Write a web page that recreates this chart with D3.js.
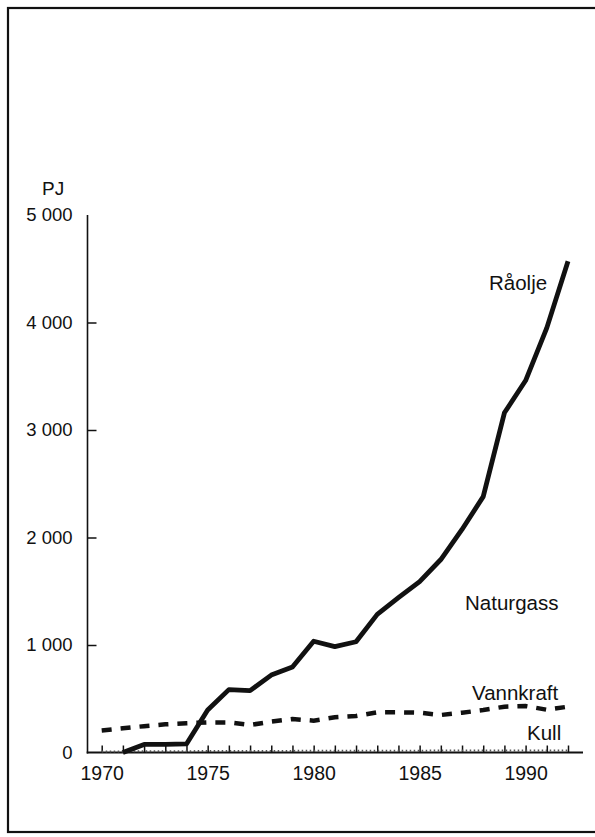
<!DOCTYPE html>
<html>
<head>
<meta charset="utf-8">
<script src="https://cdn.jsdelivr.net/npm/d3@7"></script>
<style>
  html, body { margin: 0; padding: 0; background: #fff; }
  svg { display: block; }
  text { font-family: "Liberation Sans", Arial, Helvetica, sans-serif; fill: #111; }
</style>
</head>
<body>
<svg id="chart" width="595" height="837"></svg>
<script>
// Primary energy production, PJ, 1970–1992
const years = d3.range(1970, 1993);
const raolje = [null, 0, 75, 75, 80, 395, 585, 575, 720, 795, 1035, 985, 1030, 1285, 1440, 1590, 1795, 2075, 2380, 3160, 3460, 3950, 4570];
const vannkraft = [205, 225, 245, 262, 272, 280, 280, 256, 287, 312, 296, 327, 340, 374, 374, 370, 349, 370, 395, 426, 432, 398, 426];
const kull = [10, 10, 12, 12, 12, 14, 14, 14, 15, 15, 16, 16, 16, 17, 17, 17, 18, 18, 18, 18, 18, 18, 18];
const yTicks = [0, 1000, 2000, 3000, 4000, 5000];
const xTicks = [1970, 1975, 1980, 1985, 1990];

const svg = d3.select("#chart");

// outer frame
svg.append("rect")
  .attr("x", 8).attr("y", 8)
  .attr("width", 600).attr("height", 824)
  .attr("fill", "none").attr("stroke", "#111").attr("stroke-width", 2.2);

const x = d3.scaleLinear().domain([1970, 1992]).range([101.7, 568]);
const y = d3.scaleLinear().domain([0, 5000]).range([752.5, 215]);

// unit label
svg.append("text").attr("x", 42).attr("y", 195)
  .attr("font-size", 19).text("PJ");

// y axis
const yAxis = d3.axisLeft(y)
  .tickValues(yTicks)
  .tickSizeInner(-9)
  .tickSizeOuter(0)
  .tickPadding(15)
  .tickFormat(d => d === 0 ? "0" : d3.format(",")(d).replace(",", " "));
const gy = svg.append("g").attr("transform", "translate(87.5,0)").call(yAxis);
gy.select(".domain").remove();
gy.selectAll(".tick line")
  .attr("stroke", "#111").attr("stroke-width", 1.5)
  .attr("display", d => (d === 0 || d === 5000) ? "none" : null);
gy.selectAll(".tick text")
  .attr("font-size", 18.5).attr("fill", "#111")
  .attr("font-family", "Liberation Sans, Arial, sans-serif");
svg.append("line")
  .attr("x1", 87.5).attr("x2", 87.5)
  .attr("y1", y(5000)).attr("y2", y(0) + 1)
  .attr("stroke", "#111").attr("stroke-width", 1.6);

// x axis: baseline, yearly ticks, labelled every fifth year
svg.append("line")
  .attr("x1", 86.7).attr("x2", 583)
  .attr("y1", y(0)).attr("y2", y(0))
  .attr("stroke", "#111").attr("stroke-width", 2.2);
const xAxis = d3.axisBottom(x)
  .tickValues(years)
  .tickSizeInner(-7)
  .tickSizeOuter(0)
  .tickPadding(14)
  .tickFormat(d => xTicks.includes(d) ? String(d) : "");
const gx = svg.append("g").attr("transform", `translate(0,${y(0)})`).call(xAxis);
gx.select(".domain").remove();
gx.selectAll(".tick line").attr("stroke", "#111").attr("stroke-width", 1.5);
gx.selectAll(".tick text")
  .attr("font-size", 19.5).attr("fill", "#111")
  .attr("font-family", "Liberation Sans, Arial, sans-serif");

// series
const line = d3.line()
  .defined(d => d[1] != null)
  .x(d => x(d[0]))
  .y(d => y(d[1]));

svg.append("path")
  .datum(years.map((yr, i) => [yr, kull[i]]))
  .attr("d", line)
  .attr("fill", "none")
  .attr("stroke", "#555")
  .attr("stroke-width", 2)
  .attr("stroke-dasharray", "1.5,2.5");

svg.append("path")
  .datum(years.map((yr, i) => [yr, vannkraft[i]]))
  .attr("d", line)
  .attr("fill", "none")
  .attr("stroke", "#111")
  .attr("stroke-width", 4.5)
  .attr("stroke-dasharray", "10,9");

svg.append("path")
  .datum(years.map((yr, i) => [yr, raolje[i]]))
  .attr("d", line)
  .attr("fill", "none")
  .attr("stroke", "#111")
  .attr("stroke-width", 4.8)
  .attr("stroke-linejoin", "round");

// series labels
const labels = [
  { t: "Råolje", x: 489, y: 290 },
  { t: "Naturgass", x: 465, y: 610 },
  { t: "Vannkraft", x: 472, y: 700 },
  { t: "Kull", x: 527, y: 740 }
];
svg.selectAll(".lbl").data(labels).enter().append("text")
  .attr("class", "lbl")
  .attr("x", d => d.x).attr("y", d => d.y)
  .attr("font-size", 20.5)
  .text(d => d.t);
</script>
</body>
</html>
